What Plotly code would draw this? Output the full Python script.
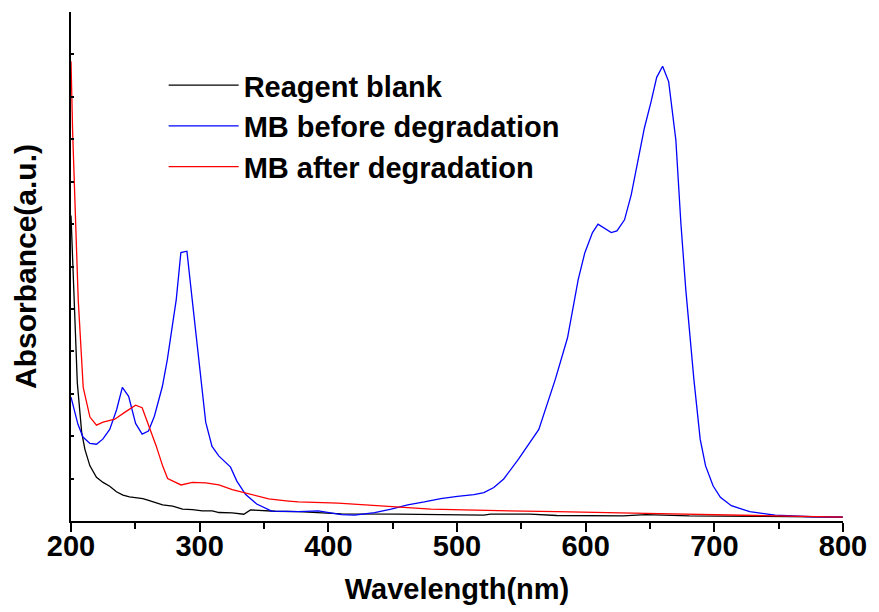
import plotly.graph_objects as go

# Reagent blank (black)
blank_x = [200.0, 202.3, 204.9, 208.3, 210.8, 214.7, 219.8, 224.9, 230.1, 235.3, 240.4, 245.5, 250.7,
           255.8, 259.7, 264.8, 271.2, 279.0, 286.7, 294.4, 302.1, 309.8, 315.0, 325.3, 334.3, 339.5,
           348.4, 358.8, 376.8, 410.2, 454.0, 492.6, 520.9, 526.0, 556.9, 577.5, 628.9, 646.9, 680.4,
           731.8, 799.8]
blank_y = [7.2, 5.22, 3.26, 2.09, 1.69, 1.30, 1.03, 0.91, 0.82, 0.69, 0.61, 0.57, 0.55,
           0.53, 0.49, 0.44, 0.38, 0.35, 0.28, 0.27, 0.24, 0.24, 0.20, 0.19, 0.16, 0.26,
           0.24, 0.23, 0.22, 0.17, 0.16, 0.15, 0.14, 0.16, 0.16, 0.13, 0.12, 0.15, 0.12,
           0.11, 0.09]

# MB before degradation (blue)
before_x = [200.0, 205.4, 209.3, 214.7, 219.8, 224.7, 230.1, 235.5, 239.9, 244.8, 250.2, 255.3, 260.2,
            264.8, 271.0, 274.9, 278.7, 281.8, 285.4, 290.1, 294.2, 299.6, 304.7, 309.6, 315.0, 324.0,
            328.9, 335.6, 344.3, 355.9, 376.8, 392.2, 399.9, 410.2, 420.5, 436.0, 448.8, 461.7, 474.6,
            487.4, 500.3, 513.2, 520.9, 528.6, 536.3, 547.8, 563.6, 576.4, 585.9, 594.2, 599.3, 605.3,
            609.6, 614.7, 619.9, 624.3, 630.2, 635.4, 640.5, 645.6, 650.8, 655.2, 659.8, 664.5, 670.1,
            674.0, 677.8, 681.1, 684.1, 689.0, 693.2, 699.0, 704.7, 713.2, 727.5, 747.3, 775.8, 799.8]
before_y = [2.92, 2.28, 1.98, 1.83, 1.81, 1.93, 2.16, 2.63, 3.15, 2.94, 2.30, 2.05, 2.12,
            2.47, 3.17, 3.81, 4.59, 5.22, 6.33, 6.36, 5.22, 3.81, 2.33, 1.76, 1.53, 1.27,
            0.94, 0.63, 0.40, 0.235, 0.22, 0.24, 0.20, 0.15, 0.14, 0.20, 0.28, 0.38, 0.45,
            0.53, 0.58, 0.62, 0.67, 0.79, 0.99, 1.46, 2.16, 3.34, 4.32, 5.69, 6.32, 6.80,
            7.00, 6.91, 6.80, 6.84, 7.10, 7.69, 8.51, 9.26, 9.88, 10.46, 10.72, 10.36, 8.98,
            7.02, 5.46, 4.32, 3.34, 1.93, 1.30, 0.83, 0.56, 0.36, 0.22, 0.14, 0.10, 0.09]

# MB after degradation (red)
after_x = [200.0, 201.3, 205.6, 209.5, 214.7, 219.8, 224.9, 234.0, 241.7, 250.2, 255.3, 259.7, 266.2,
           271.2, 275.1, 285.5, 294.4, 304.7, 315.0, 325.3, 335.6, 353.6, 369.0, 376.8, 407.6, 428.3,
           454.0, 479.7, 505.4, 531.1, 556.8, 577.5, 646.9, 685.5, 731.8, 799.8]
after_y = [10.84, 9.15, 5.22, 3.15, 2.45, 2.26, 2.33, 2.40, 2.56, 2.73, 2.67, 2.32, 1.77,
           1.30, 1.00, 0.85, 0.91, 0.90, 0.85, 0.74, 0.66, 0.52, 0.47, 0.45, 0.42, 0.38,
           0.32, 0.28, 0.26, 0.24, 0.23, 0.22, 0.18, 0.15, 0.13, 0.09]

series_names = ["Reagent blank", "MB before degradation", "MB after degradation"]
series_colors = ["#000000", "#0000FF", "#FF0000"]

x_ticks = [200, 300, 400, 500, 600, 700, 800]

FONT = "Liberation Sans, Arial, sans-serif"

fig = go.Figure()
for xs, ys, name, col in zip([blank_x, before_x, after_x], [blank_y, before_y, after_y],
                             series_names, series_colors):
    fig.add_trace(go.Scatter(x=xs, y=ys, mode="lines", name=name,
                             line=dict(color=col, width=1.3)))

fig.update_layout(
    width=879, height=612,
    margin=dict(l=71, r=31, t=12, b=90),
    paper_bgcolor="white", plot_bgcolor="white",
    font=dict(family=FONT, color="black", size=29, weight="bold"),
    showlegend=True,
    legend=dict(x=0.12, y=0.906, xanchor="left", yanchor="top",
                bgcolor="rgba(0,0,0,0)", borderwidth=0, itemwidth=70,
                font=dict(family=FONT, size=29, color="black", weight="bold"),
                tracegroupgap=0),
)
fig.update_xaxes(
    range=[200, 800], tickvals=x_ticks, ticktext=[str(v) for v in x_ticks],
    showline=True, linecolor="black", linewidth=2, mirror=False,
    ticks="outside", ticklen=9, tickwidth=2, tickcolor="black",
    minor=dict(dtick=50, ticks="outside", ticklen=6, tickwidth=2, tickcolor="black"),
    showgrid=False, zeroline=False, ticklabelstandoff=-11,
    tickfont=dict(family=FONT, size=29, color="black", weight="bold"),
    title=dict(text="Wavelength(nm)", standoff=18,
               font=dict(family=FONT, size=29, color="black", weight="bold")),
)
fig.update_yaxes(
    range=[0, 12], dtick=1, showticklabels=False,
    showline=True, linecolor="black", linewidth=2, mirror=False,
    ticks="inside", ticklen=3, tickwidth=1.5, tickcolor="black",
    showgrid=False, zeroline=False,
    title=dict(text="Absorbance(a.u.)", standoff=24,
               font=dict(family=FONT, size=30, color="black", weight="bold")),
)

fig.write_html("out.html")
